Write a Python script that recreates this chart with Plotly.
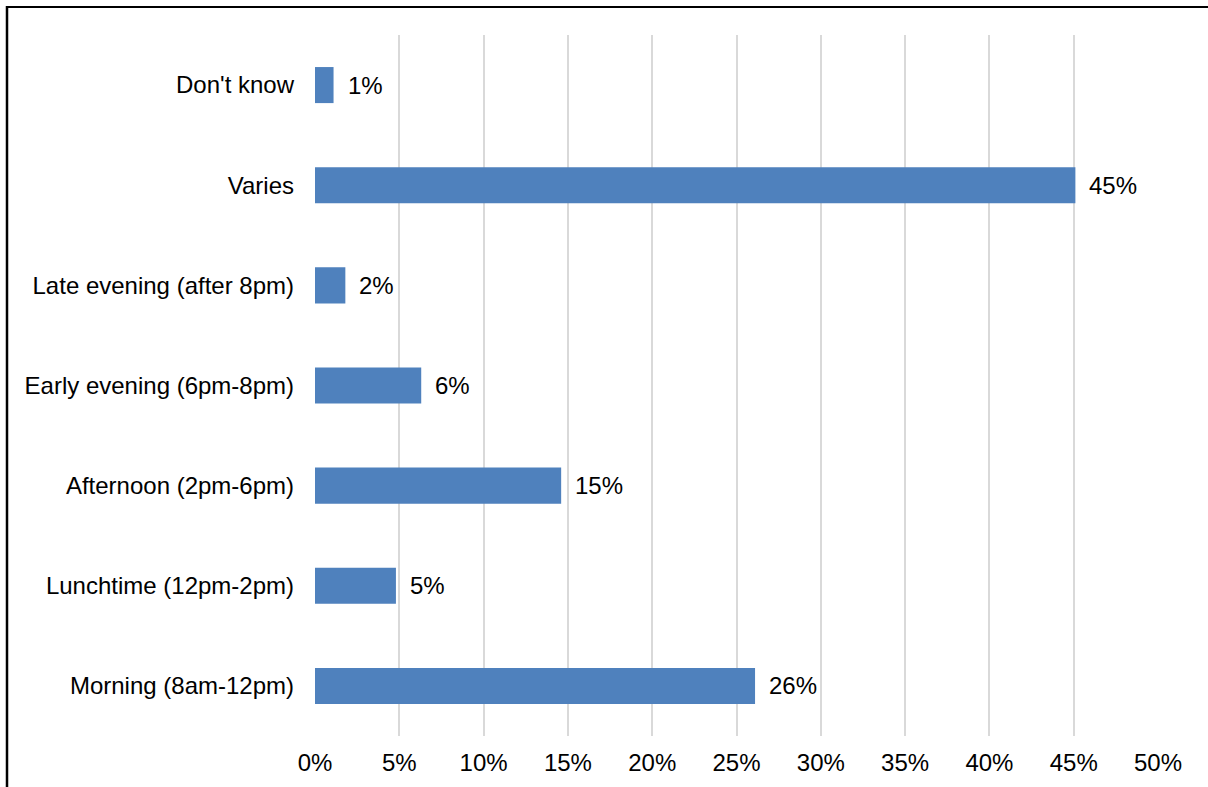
import plotly.graph_objects as go

categories = ["Morning (8am-12pm)", "Lunchtime (12pm-2pm)", "Afternoon (2pm-6pm)",
              "Early evening (6pm-8pm)", "Late evening (after 8pm)", "Varies", "Don't know"]
values = [26.1, 4.8, 14.6, 6.3, 1.8, 45.1, 1.1]
labels = ["26%", "5%", "15%", "6%", "2%", "45%", "1%"]
x_ticks = [0, 5, 10, 15, 20, 25, 30, 35, 40, 45, 50]
x_tick_text = ["0%", "5%", "10%", "15%", "20%", "25%", "30%", "35%", "40%", "45%", "50%"]

W, H = 1208, 787
L, R, T, B = 315, 50, 35, 51
pw, ph = W - L - R, H - T - B

font = dict(family="Liberation Sans, Arial, sans-serif", size=24, color="#000000")

fig = go.Figure(go.Bar(
    x=values, y=categories, orientation="h",
    marker=dict(color="#4F81BD", line=dict(width=0)),
    width=0.36, hoverinfo="skip",
))

for v, c, t in zip(values, categories, labels):
    fig.add_annotation(x=v, y=c, text=t, showarrow=False, xanchor="left",
                       xshift=12, font=font)

def px_to_paper_x(px):
    return (px - L) / pw

def px_to_paper_y(py):
    return (H - B - py) / ph

# outer frame lines (left and top)
fig.add_shape(type="line", xref="paper", yref="paper",
              x0=px_to_paper_x(7), x1=px_to_paper_x(7),
              y0=px_to_paper_y(6), y1=px_to_paper_y(800),
              line=dict(color="#000000", width=2.5))
fig.add_shape(type="line", xref="paper", yref="paper",
              x0=px_to_paper_x(6), x1=px_to_paper_x(1220),
              y0=px_to_paper_y(7), y1=px_to_paper_y(7),
              line=dict(color="#000000", width=2))

fig.update_layout(
    width=W, height=H,
    margin=dict(l=L, r=R, t=T, b=B, pad=0),
    paper_bgcolor="white", plot_bgcolor="white",
    font=font, showlegend=False,
    xaxis=dict(range=[0, 50], tickvals=x_ticks, ticktext=x_tick_text,
               showgrid=True, gridcolor="#D9D9D9", gridwidth=2,
               zeroline=False, showline=False, ticks="",
               ticklabelstandoff=10, tickfont=font, fixedrange=True),
    yaxis=dict(categoryorder="array", categoryarray=categories,
               showgrid=False, zeroline=False, showline=False, ticks="",
               ticklabelstandoff=20, tickfont=font, fixedrange=True),
)

fig.write_html("out.html", config={"displayModeBar": False},
               post_script="document.body.style.margin='0';document.body.style.overflow='hidden';")
